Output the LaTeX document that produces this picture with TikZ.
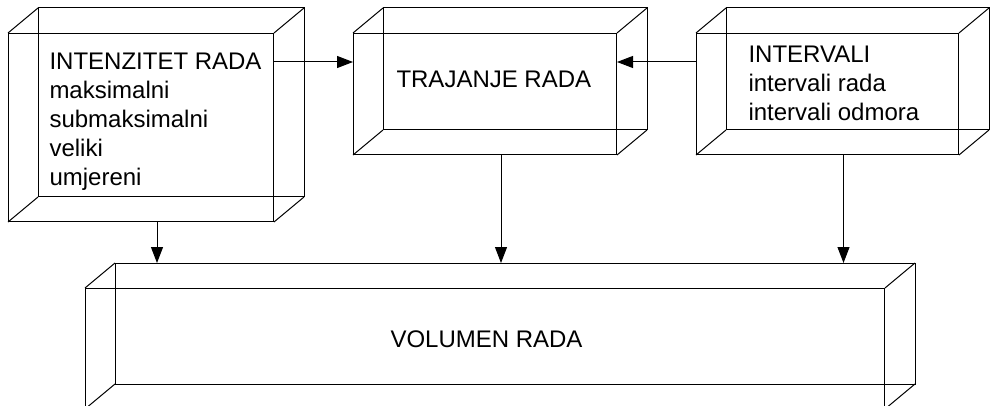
\documentclass[tikz,border=0pt]{standalone}
\usepackage{fontspec}
\setmainfont{Liberation Sans}
\usetikzlibrary{arrows.meta}

\begin{document}
\begin{tikzpicture}[x=1pt, y=-1pt, line width=1pt,
    face/.style={draw, rectangle, anchor=north west, inner sep=0pt},
    txt/.style={anchor=north west, inner sep=0pt, align=left,
      font=\fontsize{24}{29}\selectfont},
    arr/.style={-{Triangle[length=16pt, width=12pt]}}]

    \useasboundingbox (0,0) rectangle (990,406);

    % front faces
    \node[face, minimum width=265pt, minimum height=188pt] (intz) at (8,33) {};
    \node[face, minimum width=263pt, minimum height=121pt] (traj) at (353,33) {};
    \node[face, minimum width=262pt, minimum height=121pt] (intv) at (696,33) {};
    \node[face, minimum width=799pt, minimum height=120pt] (vol) at (85,288) {};

    % back faces and depth edges
    \foreach \n in {intz,traj,intv,vol} {
      \draw ([shift={(30,-25)}]\n.north west) rectangle ([shift={(30,-25)}]\n.south east);
      \foreach \c in {north west,north east,south west,south east}
        \draw (\n.\c) -- ([shift={(30,-25)}]\n.\c);
    }
    \coordinate (vol-back) at ([shift={(30,-25)}]vol.north west);

    % texts
    \node[txt] (intz-t) at (49,52) {INTENZITET RADA\\maksimalni\\submaksimalni\\veliki\\umjereni};
    \node[txt] (traj-t) at (396,70) {TRAJANJE RADA};
    \node[txt] (intv-t) at (748,45) {INTERVALI\\intervali rada\\intervali odmora};
    \node[txt] (vol-t) at (390,330) {VOLUMEN RADA};

    % connectors
    \draw[arr] ([yshift=-29pt]intz.north east) -- ([yshift=-29pt]traj.north west);
    \draw[arr] ([yshift=-29pt]intv.north west) -- ([yshift=-29pt]traj.north east);
    \foreach \n in {intz,traj,intv} {
      \coordinate (\n-d) at ([xshift=16pt]\n.south);
      \draw[arr] (\n-d) -- (\n-d |- vol-back);
    }

  \end{tikzpicture}
\end{document}
